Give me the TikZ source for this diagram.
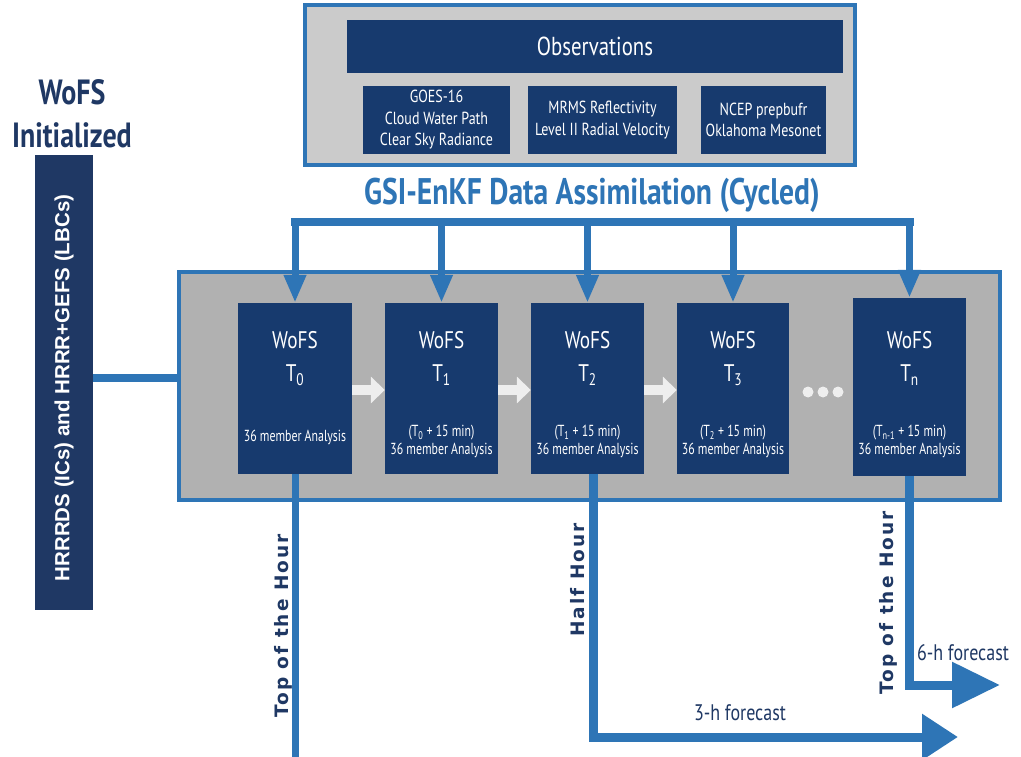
\documentclass[tikz,border=0pt]{standalone}
\usepackage{fontspec}
\setmainfont{PT Sans}
\newfontfamily\cond{PT Sans}[FakeStretch=0.8]
\newfontfamily\condx{PT Sans}[FakeStretch=0.74]
\newfontfamily\arialb{Liberation Sans}
\newfontfamily\dvs{DejaVu Sans}[LetterSpace=11]
\usetikzlibrary{arrows.meta}
\definecolor{navy}{HTML}{173A6E}
\definecolor{navyb}{HTML}{1F3864}
\definecolor{lblue}{HTML}{2E75B6}
\definecolor{gbig}{HTML}{B1B1B1}
\definecolor{gtop}{HTML}{CBCBCB}
\definecolor{wash}{HTML}{EEEEEE}
\tikzset{
  navybox/.style={rectangle, fill=navy, inner sep=0pt, draw=none},
  panel/.style={rectangle, draw=lblue, line width=4pt, inner sep=0pt},
  conn/.style={draw=lblue, line width=8pt},
  drop/.style={draw=lblue, line width=7pt, -{Triangle[length=28pt,width=21pt]}},
  fcst/.style={draw=lblue, line width=9pt, line join=miter},
  nextarrow/.style={draw=wash, line width=10pt, -{Triangle[length=14pt,width=26pt]}},
  wt/.style={text=white, font=\cond\fontsize{24}{27}\selectfont, inner sep=0pt},
  wl/.style={text=white, font=\condx\fontsize{16}{17.5}\selectfont, align=center, inner sep=0pt},
  ot/.style={text=white, font=\cond\fontsize{17.5}{21.5}\selectfont, align=center, inner sep=0pt},
  rotlbl/.style={text=navyb, font=\dvs\bfseries\fontsize{18.5}{21}\selectfont, rotate=90, inner sep=0pt},
  fl/.style={text=navyb, font=\cond\fontsize{22.5}{25}\selectfont, inner sep=0pt},
  bigtitle/.style={font=\cond\bfseries\fontsize{35}{38}\selectfont, inner sep=0pt},
}
\begin{document}
\begin{tikzpicture}[x=1pt,y=-1pt]
\useasboundingbox (0,0) rectangle (1021,757);
\fill[white] (0,0) rectangle (1021,757);

% Observations panel
\node[panel, fill=gtop, minimum width=550pt, minimum height=160pt] (obs) at (580,85) {};
\node[navybox, minimum width=496pt, minimum height=53pt, text=white,
      font=\cond\fontsize{26}{30}\selectfont] (obst) at (595,46.5) {Observations};
\node[navybox, minimum width=147pt, minimum height=68pt] (goes) at (436.5,120) {};
\node[ot] at (goes.center) {GOES-16\\Cloud Water Path\\Clear Sky Radiance};
\node[navybox, minimum width=149pt, minimum height=68pt] (mrms) at (602.5,120) {};
\node[ot] at (mrms.center) {MRMS Reflectivity\\Level II Radial Velocity};
\node[navybox, minimum width=125pt, minimum height=68pt] (ncep) at (763.5,120) {};
\node[ot] at (ncep.center) {NCEP prepbufr\\Oklahoma Mesonet};

\node[bigtitle, text=lblue, font=\cond\bfseries\fontsize{37}{40}\selectfont] (gsi) at (592,195) {GSI-EnKF Data Assimilation (Cycled)};

% Left
\node[bigtitle, text=navyb] (wofs) at (72,92) {WoFS};
\node[bigtitle, text=navyb] (init) at (72,135) {Initialized};
\node[rectangle, fill=navyb, minimum width=58pt, minimum height=455pt, inner sep=0pt] (bar) at (64,382.5) {};
\node[rotate=90, text=white, font=\arialb\bfseries\fontsize{20.5}{24}\selectfont, inner sep=0pt] (bart) at (64,388) {HRRRDS (ICs) and HRRR+GEFS (LBCs)};

% Big panel
\node[panel, fill=gbig, minimum width=821pt, minimum height=228pt] (big) at (589.5,386) {};
\coordinate (cy) at (0,378);
\draw[conn] (bar.east |- cy) -- (big.west |- cy);

% WoFS boxes
\node[navybox, minimum width=114pt, minimum height=171pt] (t0) at (295,388.5) {};
\node[navybox, minimum width=113pt, minimum height=171pt] (t1) at (441.5,388.5) {};
\node[navybox, minimum width=113pt, minimum height=171pt] (t2) at (587.5,388.5) {};
\node[navybox, minimum width=112pt, minimum height=171pt] (t3) at (733,388.5) {};
\node[navybox, minimum width=113pt, minimum height=178pt] (tn) at (909.5,387) {};

\foreach \b/\s in {t0/0,t1/1,t2/2,t3/3,tn/n}{
  \node[wt] at (\b.center |- 0,340) {WoFS};
  \node[wt] at (\b.center |- 0,375) {T\textsubscript{\s}};
}
\node[wl] at (t0.center |- 0,437) {36 member Analysis};
\node[wl] at (t1.center |- 0,441.5) {(T\textsubscript{0} + 15 min)\\36 member Analysis};
\node[wl] at (t2.center |- 0,441.5) {(T\textsubscript{1} + 15 min)\\36 member Analysis};
\node[wl] at (t3.center |- 0,441.5) {(T\textsubscript{2} + 15 min)\\36 member Analysis};
\node[wl] at (tn.center |- 0,441.5) {(T\textsubscript{n-1} + 15 min)\\36 member Analysis};

% next arrows
\coordinate (ay) at (0,390);
\draw[nextarrow] (t0.east |- ay) -- (t1.west |- ay);
\draw[nextarrow] (t1.east |- ay) -- (t2.west |- ay);
\draw[nextarrow] (t2.east |- ay) -- (t3.west |- ay);
\foreach \x in {808,823,838} \fill[wash] (\x,392) circle (5.5pt);

% assimilation distribution
\coordinate (top) at (0,222);
\draw[conn] ([xshift=-4pt]t0.north |- top) -- ([xshift=4pt]tn.north |- top);
\foreach \b in {t0,t1,t2,t3,tn}{
  \draw[drop] (\b.north |- top) -- (\b.north);
}

% forecasts
\coordinate (bot) at (0,757);
\draw[draw=lblue, line width=7pt] (t0.south) -- (t0.south |- bot);
\coordinate (f3) at (958,737);
\coordinate (h2) at (593,474);
\draw[fcst, -{Triangle[length=36pt,width=44pt]}] (h2) |- (f3);
\coordinate (f6) at (1000,685);
\draw[fcst, -{Triangle[length=48pt,width=44pt]}] (tn.south) |- (f6);

\node[rotlbl] (l1) at (283,626) {Top of the Hour};
\node[rotlbl] (l2) at (578,580) {Half Hour};
\node[rotlbl] (l3) at (888,603) {Top of the Hour};
\node[fl] (l4) at (740,713) {3-h forecast};
\node[fl] (l5) at (963,653) {6-h forecast};
\end{tikzpicture}
\end{document}
